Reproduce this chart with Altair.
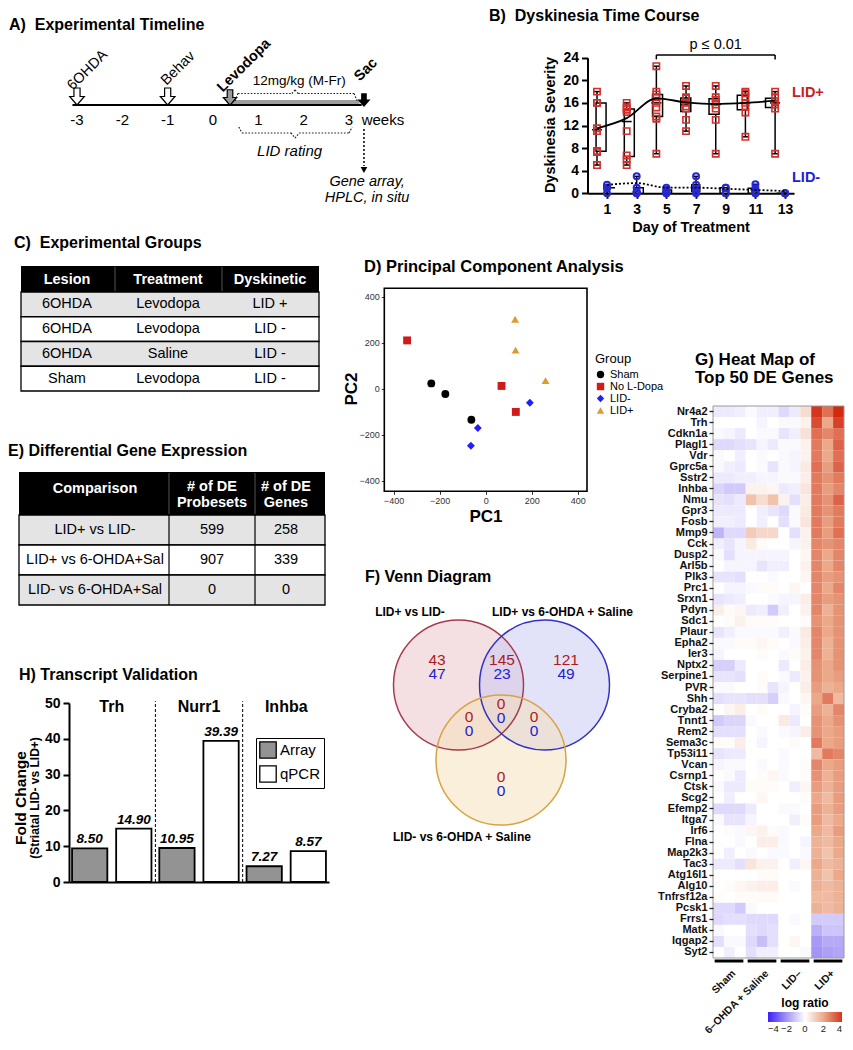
import altair as alt
import pandas as pd

# ================================================================ DATA
# A) timeline
A_weeks = [-3, -2, -1, 0, 1, 2, 3]
A_week_text = ["-3", "-2", "-1", "0", "1", "2", "3"]
A_events = ["6OHDA", "Behav", "Levodopa", "Sac"]
A_event_week = [-3.0, -1.0, 0.375, 3.33]
A_timeline = [-3.1, 3.28]
A_treatment = [0.42, 3.18]
A_rating = [0.57, 3.07]
A_dose = "12mg/kg (M-Fr)"
A_outputs = ["Gene array,", "HPLC, in situ"]

# B) dyskinesia time course
B_days = [1, 3, 5, 7, 9, 11, 13]
B_lid_plus = [
    [18, 16, 16, 11.5, 11, 7.5, 7.3, 5],
    [16, 15.2, 14.8, 14.4, 11, 6.7, 6, 5],
    [22.5, 18, 17.5, 17, 16, 15.2, 13.6, 13.2, 7],
    [19, 17, 16.8, 16, 15.4, 15, 13, 11],
    [19, 17, 16.5, 15.7, 15, 13, 7],
    [18, 17.7, 17, 16, 15.3, 14.3, 10],
    [18, 17, 16.3, 15.7, 15, 7],
]
B_lid_plus_mean = [11.5, 13.3, 16.8, 16.1, 15.8, 16.0, 16.4]
B_lid_minus = [
    [1.5, 1, 1, 1, 0],
    [3, 1, 0.3, 0, 0],
    [1, 0.6, 0.2, 0, 0],
    [3, 1.5, 0.8, 0.3, 0],
    [1, 1, 0, 0],
    [1.6, 0.9, 0.3, 0, 0],
    [0, 0, 0],
]
B_lid_minus_mean = [1.5, 1.8, 1.0, 1.0, 0.8, 0.6, 0.4]
B_sig_days = [5, 13]
B_sig_level = 24.5

# C) experimental groups
C_header = ["Lesion", "Treatment", "Dyskinetic"]
C_lesion = ["6OHDA", "6OHDA", "6OHDA", "Sham"]
C_treatment = ["Levodopa", "Levodopa", "Saline", "Levodopa"]
C_dyskinetic = ["LID +", "LID -", "LID -", "LID -"]

# D) PCA
D_groups = ["Sham", "No L-Dopa", "LID-", "LID+"]
D_group = ["Sham"] * 3 + ["No L-Dopa"] * 3 + ["LID-"] * 3 + ["LID+"] * 3
D_pc1 = [-236, -175, -62, -341, 69, 131, -34, -64, 192, 128, 130, 260]
D_pc2 = [23, -23, -135, 210, 12, -101, -171, -248, -61, 302, 168, 35]
D_ticks = [-400, -200, 0, 200, 400]

# E) differential expression
E_header = ["Comparison", "# of DE", "Probesets", "# of DE", "Genes"]
E_comparison = ["LID+ vs LID-", "LID+ vs 6-OHDA+Sal", "LID- vs 6-OHDA+Sal"]
E_probesets = [599, 907, 0]
E_genes = [258, 339, 0]

# F) Venn
F_sets = ["LID+ vs LID-", "LID+ vs 6-OHDA + Saline", "LID- vs 6-OHDA + Saline"]
F_up = [43, 145, 121, 0, 0, 0, 0]     # A only, A&B, B only, A&B&C, A&C, B&C, C only
F_down = [47, 23, 49, 0, 0, 0, 0]

# G) heat map
G_genes = ["Nr4a2", "Trh", "Cdkn1a", "Plagl1", "Vdr", "Gprc5a", "Sstr2", "Inhba", "Nmu",
           "Gpr3", "Fosb", "Mmp9", "Cck", "Dusp2", "Arl5b", "Plk3", "Prc1", "Srxn1", "Pdyn",
           "Sdc1", "Plaur", "Epha2", "Ier3", "Nptx2", "Serpine1", "PVR", "Shh", "Cryba2",
           "Tnnt1", "Rem2", "Sema3c", "Tp53i11", "Vcan", "Csrnp1", "Ctsk", "Scg2", "Efemp2",
           "Itga7", "Irf6", "Flna", "Map2k3", "Tac3", "Atg16l1", "Alg10", "Tnfrsf12a",
           "Pcsk1", "Frrs1", "Matk", "Iqgap2", "Syt2"]
G_groups = ["Sham", "6\u2013OHDA + Saline", "LID\u2013", "LID+"]
G_samples = ["Sham 1", "Sham 2", "Sham 3", "Sal 1", "Sal 2", "Sal 3",
             "LID- 1", "LID- 2", "LID- 3", "LID+ 1", "LID+ 2", "LID+ 3"]
G_values = [
    [-0.4, -0.4, -0.3, -0.1, -0.3, -0.3, -0.7, -0.4, 0.8, 4.0, 3.0, 4.2],
    [0.0, 0.0, 0.0, 0.0, -0.2, 0.0, -0.1, -0.1, 0.3, 3.6, 2.0, 3.8],
    [-0.1, -0.2, -0.4, 0.0, -0.1, -0.1, -0.5, -0.3, 0.7, 3.0, 2.6, 3.0],
    [-0.7, -0.7, -0.6, -0.5, -0.2, -0.4, -0.1, -0.1, 0.3, 2.8, 2.0, 3.2],
    [-0.1, 0.0, -0.3, 0.0, -0.1, 0.0, -0.1, -0.2, 0.3, 2.8, 2.0, 3.0],
    [-0.1, -0.3, -0.4, 0.0, -0.1, -0.5, -0.1, -0.2, 0.5, 3.0, 2.2, 3.2],
    [-0.4, -0.4, -0.3, -0.3, -0.2, -0.2, -0.1, -0.1, 0.4, 2.8, 2.4, 2.8],
    [-0.8, -1.0, -1.0, 0.3, 0.3, 0.2, -0.4, -0.3, 0.6, 2.8, 2.2, 2.6],
    [-0.5, -0.6, -0.4, 1.4, 0.8, 1.4, 0.3, -0.6, 0.4, 2.8, 2.4, 3.2],
    [-0.4, -0.4, -0.4, 0.0, -0.3, -0.5, -0.7, -0.1, 0.5, 2.8, 2.4, 2.8],
    [-0.3, -0.3, -0.4, 0.0, -0.3, 0.0, -0.6, -0.1, 0.6, 2.8, 2.2, 2.8],
    [-1.4, -0.7, -0.7, 1.2, 0.9, 0.9, 0.0, -0.6, 0.3, 2.8, 2.2, 3.0],
    [-0.3, -0.5, -0.2, 0.5, 0.1, 0.0, 0.0, -0.2, 0.3, 2.6, 2.4, 2.6],
    [-0.1, -0.6, -0.2, -0.2, -0.2, -0.2, -0.2, 0.0, 0.2, 2.6, 2.0, 2.6],
    [0.0, -0.2, -0.2, -0.2, -0.5, -0.3, -0.3, 0.0, 0.3, 2.6, 2.0, 2.6],
    [-0.5, -0.5, -0.6, 0.0, 0.0, -0.1, 0.0, 0.0, 0.2, 2.6, 2.2, 2.4],
    [0.0, -0.2, -0.2, -0.1, 0.1, 0.1, 0.0, 0.2, 0.0, 2.6, 2.0, 2.6],
    [-0.5, -0.4, -0.3, 0.0, 0.0, -0.1, -0.2, -0.2, 0.4, 2.6, 2.2, 2.4],
    [0.4, 0.1, 0.2, -0.4, -0.3, -1.0, -0.3, 0.0, 0.3, 2.6, 1.8, 2.4],
    [0.0, 0.1, 0.3, 0.1, 0.1, 0.1, 0.0, 0.0, 0.1, 2.4, 2.0, 2.4],
    [-0.5, -0.3, -0.1, -0.1, -0.1, -0.1, -0.3, -0.1, 0.5, 2.6, 2.0, 2.4],
    [-0.1, -0.1, 0.1, 0.1, 0.2, 0.1, 0.0, -0.1, 0.4, 2.6, 1.8, 2.4],
    [-0.2, 0.0, 0.0, 0.0, 0.1, 0.0, -0.1, 0.1, 0.3, 2.6, 1.8, 2.4],
    [-0.9, -0.9, -0.4, 0.0, 0.0, 0.0, -0.4, 0.0, 0.4, 2.4, 2.0, 2.4],
    [-0.5, -0.5, -0.6, 0.0, 0.1, 0.0, -0.1, -0.4, 0.3, 2.4, 2.0, 2.2],
    [-0.1, -0.1, 0.0, 0.0, 0.1, -0.5, -0.2, 0.0, 0.4, 2.2, 1.8, 2.0],
    [-0.6, -0.5, -0.5, -0.6, -0.6, -0.9, -0.1, 0.0, 0.2, 2.0, 2.8, 1.6],
    [0.0, 0.2, 0.4, 0.0, 0.1, 0.0, 0.0, -0.2, 0.1, 2.2, 1.8, 2.6],
    [-1.0, -0.8, -0.8, -0.1, 0.0, 0.0, 0.5, -0.4, 0.0, 2.4, 2.0, 2.4],
    [-0.6, -0.6, -0.6, 0.0, -0.1, 0.0, -0.1, -0.2, 0.4, 2.4, 2.0, 2.2],
    [0.1, 0.1, 0.4, 0.0, -0.2, 0.0, 0.0, 0.1, 0.0, 2.8, 2.0, 2.2],
    [-0.5, -0.4, -0.4, 0.0, 0.0, 0.0, -0.1, 0.0, 0.0, 1.6, 2.8, 2.6],
    [-0.2, -0.1, -0.1, 0.0, -0.1, 0.0, -0.1, 0.0, 0.1, 2.6, 2.0, 2.2],
    [0.0, -0.1, -0.4, 0.0, 0.1, 0.2, -0.1, 0.0, 0.1, 2.4, 1.8, 2.2],
    [-0.1, -0.4, -0.4, 0.1, 0.1, 0.1, 0.0, -0.3, 0.2, 2.2, 1.8, 2.2],
    [0.0, -0.3, 0.0, 0.0, 0.2, 0.0, 0.0, 0.0, 0.1, 2.0, 1.6, 2.2],
    [-0.7, -0.7, -0.7, -0.4, 0.0, 0.0, -0.1, -0.1, 0.0, 2.2, 1.8, 2.2],
    [-0.1, -0.5, -0.5, -0.2, 0.0, 0.0, 0.0, -0.3, 0.1, 2.2, 1.6, 2.0],
    [0.0, 0.1, -0.1, 0.2, 0.3, 0.1, -0.1, 0.0, 0.0, 2.0, 1.6, 2.2],
    [0.0, 0.0, -0.1, 0.0, 0.4, 0.4, -0.1, 0.0, -0.2, 1.8, 1.6, 2.0],
    [0.0, -0.3, 0.0, -0.1, 0.0, -0.1, -0.1, 0.0, -0.1, 1.8, 1.4, 2.0],
    [-0.4, -0.4, -0.6, 0.6, 0.3, 0.3, 0.0, -0.3, 0.2, 2.0, 1.6, 1.8],
    [0.0, 0.0, 0.0, 0.0, 0.1, 0.1, 0.0, 0.0, 0.0, 1.8, 1.4, 2.0],
    [0.0, 0.1, 0.2, 0.3, 0.4, 0.4, 0.0, -0.1, 0.0, 1.8, 1.6, 1.8],
    [0.1, 0.0, 0.1, 0.1, 0.1, 0.1, 0.0, 0.0, 0.0, 1.6, 1.6, 1.8],
    [-0.7, -0.7, -1.0, -0.1, 0.0, 0.0, 0.0, 0.0, 0.0, 1.8, 1.6, 1.8],
    [-0.7, -0.6, -0.6, -0.7, -0.7, -0.7, 0.0, -0.1, 0.0, -1.0, -1.0, -1.0],
    [-0.1, 0.0, 0.0, -0.6, -0.7, -0.6, 0.0, 0.0, 0.0, -1.5, -1.1, -1.1],
    [-0.6, -0.1, -0.1, -0.7, -1.2, -0.6, 0.0, 0.2, 0.0, -1.9, -1.6, -1.6],
    [0.0, -0.3, 0.0, -0.6, -0.3, -0.3, 0.0, 0.0, -0.1, -2.0, -1.8, -1.7],
]
G_legend_ticks = [-4, -2, 0, 2, 4]

# H) transcript validation
H_genes = ["Trh", "Nurr1", "Inhba"]
H_types = ["Array", "qPCR"]
H_array = [9.4, 9.5, 4.4]
H_qpcr = [14.9, 39.4, 8.6]
H_array_text = ["8.50", "10.95", "7.27"]
H_qpcr_text = ["14.90", "39.39", "8.57"]
H_ticks = [0, 10, 20, 30, 40, 50]

# ================================================================ LAYOUT HELPERS
OX, OY = 6, 3          # reference pixel -> chart pixel
GX, GY = 7, 10         # heat-map panel nudged left/up to fit the page
W, H = 837, 1028
FONT = "Liberation Sans"
ONE = [{"k": 0}]


def X(v):
    return round(v - OX, 1)


def Y(v):
    return round(v - OY, 1)


def XG(v):
    return X(v - GX)


def YG(v):
    return Y(v - GY)


def one():
    return alt.Chart(alt.Data(values=ONE))


def txt(s, x, y, size=14, weight="normal", color="black", align="left",
        baseline="alphabetic", angle=None, style="normal"):
    kw = dict(text=s, fontSize=size, fontWeight=weight, color=color, align=align,
              baseline=baseline, font=FONT, fontStyle=style)
    if angle is not None:
        kw["angle"] = angle
    return one().mark_text(**kw).encode(x=alt.value(x), y=alt.value(y))


def rect(x0, x1, y0, y1, fill="none", stroke=None, sw=1.0):
    kw = dict(fill=fill)
    if stroke:
        kw.update(stroke=stroke, strokeWidth=sw)
    return one().mark_rect(**kw).encode(x=alt.value(x0), x2=alt.value(x1),
                                        y=alt.value(y0), y2=alt.value(y1))


def line(x0, y0, x1, y1, color="black", sw=1.0, dash=None):
    kw = dict(color=color, strokeWidth=sw)
    if dash:
        kw["strokeDash"] = dash
    return one().mark_rule(**kw).encode(x=alt.value(x0), x2=alt.value(x1),
                                        y=alt.value(y0), y2=alt.value(y1))


layers = []
add = layers.extend

# ================================================================ A
xA = alt.Scale(domain=[-3, 3], range=[X(75), X(347)])


def wk(v):
    return alt.XDatum(v, scale=xA, axis=None, type="quantitative")


def segA(w0, y0, w1, y1, sw=1.2, color="#222", dash=(1.6, 1.6), cap="butt"):
    kw = dict(color=color, strokeWidth=sw, strokeCap=cap)
    if dash:
        kw["strokeDash"] = list(dash)
    return one().mark_rule(**kw).encode(x=wk(w0), x2=alt.X2Datum(w1),
                                        y=alt.value(Y(y0)), y2=alt.value(Y(y1)))


ARROW = "M-0.36,-1L0.36,-1L0.36,0L0.86,0L0,1L-0.86,0L-0.36,0Z"


def arrow(w, yc, size, fill):
    return one().mark_point(shape=ARROW, size=size, filled=True, fill=fill,
                            stroke="black", strokeWidth=1.2, opacity=1).encode(
        x=wk(w), y=alt.value(Y(yc)))


def evlabel(i, xoff, yy, weight):
    return one().mark_text(text=A_events[i], fontSize=14.5, fontWeight=weight, font=FONT,
                           angle=315, align="left", baseline="middle",
                           xOffset=xoff).encode(x=wk(A_event_week[i]), y=alt.value(Y(yy)))


dfA = pd.DataFrame({"w": A_weeks, "t": A_week_text})
add([
    txt("A)\u00a0\u00a0Experimental Timeline", X(7), Y(25), 16, "bold"),
    segA(A_treatment[0], 97.5, A_treatment[1], 97.5, sw=5, color="#9d9d9d", dash=None, cap="round"),
    segA(A_timeline[0], 100, A_timeline[1], 100, sw=2.2, color="black", dash=None),
    alt.Chart(dfA).mark_text(fontSize=15, font=FONT, align="center", baseline="middle").encode(
        x=alt.X("w:Q", scale=xA, axis=None), y=alt.value(Y(115)), text="t:N"),
    one().mark_text(text="weeks", fontSize=15, font=FONT, align="left", baseline="middle").encode(
        x=wk(A_timeline[1]), y=alt.value(Y(115))),
    arrow(A_event_week[0], 91.5, 289, "white"),
    arrow(A_event_week[1], 91.5, 289, "white"),
    arrow(A_event_week[2], 92.5, 240, "#9a9a9a"),
    arrow(A_event_week[3], 95.0, 150, "black"),
    evlabel(0, -7, 83, "normal"),
    evlabel(1, -4, 78, "normal"),
    evlabel(2, -10, 85, "bold"),
    evlabel(3, -7, 74, "bold"),
    # dotted brace above treatment bar
    segA(A_treatment[0] + 0.065, 96, A_treatment[0] + 0.13, 88.5),
    segA(A_treatment[0] + 0.13, 88.5, 1.74, 88.5),
    segA(1.74, 88.5, 1.81, 85),
    segA(1.81, 85, 1.88, 88.5),
    segA(1.88, 88.5, A_treatment[1] - 0.07, 88.5),
    segA(A_treatment[1] - 0.07, 88.5, A_treatment[1], 96),
    one().mark_text(text=A_dose, fontSize=13.5, font=FONT, align="center", baseline="middle").encode(
        x=wk(1.9), y=alt.value(Y(76))),
    # dotted brace below (LID rating)
    segA(A_rating[0], 122, A_rating[0] + 0.07, 128),
    segA(A_rating[0] + 0.07, 128, 1.72, 128),
    segA(1.72, 128, 1.81, 133),
    segA(1.81, 133, 1.9, 128),
    segA(1.9, 128, A_rating[1] - 0.07, 128),
    segA(A_rating[1] - 0.07, 128, A_rating[1], 122),
    one().mark_text(text="LID rating", fontSize=15, font=FONT, fontStyle="italic",
                    align="center", baseline="middle").encode(x=wk(1.69), y=alt.value(Y(146))),
    # dotted arrow to outputs
    segA(A_event_week[3], 124, A_event_week[3], 161, sw=1.5, color="black", dash=(2, 2)),
    one().mark_point(shape="triangle-down", size=45, filled=True, color="black", opacity=1).encode(
        x=wk(A_event_week[3]), y=alt.value(Y(165))),
    one().mark_text(text=A_outputs[0], fontSize=14.5, font=FONT, fontStyle="italic",
                    align="center", baseline="middle").encode(x=wk(3.4), y=alt.value(Y(177))),
    one().mark_text(text=A_outputs[1], fontSize=14.5, font=FONT, fontStyle="italic",
                    align="center", baseline="middle").encode(x=wk(3.4), y=alt.value(Y(193))),
])

# ================================================================ B
xB = alt.Scale(domain=[-0.3, 13.6], range=[X(585.7), X(792)])
yB = alt.Scale(domain=[0, 24], range=[Y(188.3), Y(52.7)])
dfBp = pd.DataFrame([(d, v) for d, vals in zip(B_days, B_lid_plus) for v in vals], columns=["day", "v"])
dfBm = pd.DataFrame([(d, v) for d, vals in zip(B_days, B_lid_minus) for v in vals], columns=["day", "v"])
xBe = alt.X("day:Q", scale=xB, axis=None)


def boxes(df, off, bw):
    base = alt.Chart(df).transform_aggregate(
        lo="min(v)", hi="max(v)", q1="q1(v)", q3="q3(v)", med="median(v)", groupby=["day"])
    return [
        base.mark_rule(color="black", strokeWidth=1.5, xOffset=off).encode(
            x=xBe, y=alt.Y("lo:Q", scale=yB, axis=None), y2="hi:Q"),
        base.mark_tick(orient="horizontal", size=bw - 3, thickness=1.5, color="black",
                       xOffset=off, opacity=1).encode(x=xBe, y=alt.Y("hi:Q", scale=yB, axis=None)),
        base.mark_tick(orient="horizontal", size=bw - 3, thickness=1.5, color="black",
                       xOffset=off, opacity=1).encode(x=xBe, y=alt.Y("lo:Q", scale=yB, axis=None)),
        base.mark_bar(width=bw, fill="white", stroke="black", strokeWidth=1.5, xOffset=off).encode(
            x=xBe, y=alt.Y("q1:Q", scale=yB, axis=None), y2="q3:Q"),
        base.mark_tick(orient="horizontal", size=bw, thickness=1.5, color="black",
                       xOffset=off, opacity=1).encode(x=xBe, y=alt.Y("med:Q", scale=yB, axis=None)),
    ]


axis_style = dict(grid=False, title=None, domainColor="black", domainWidth=2, tickColor="black",
                  tickWidth=2, labelColor="black", labelFont=FONT, labelFontWeight="bold",
                  labelFontSize=14)
dfBpm = pd.DataFrame({"day": B_days, "m": B_lid_plus_mean})
dfBmm = pd.DataFrame({"day": B_days, "m": B_lid_minus_mean})
dfBsig = pd.DataFrame({"day": B_sig_days})
add([
    txt("B)\u00a0\u00a0Dyskinesia Time Course", X(487), Y(16), 16, "bold"),
    alt.Chart(dfBp).mark_point(opacity=0).encode(
        x=alt.X("day:Q", scale=xB, axis=alt.Axis(orient="bottom", offset=Y(188.3) - H, values=B_days,
                                                 tickSize=5, labelPadding=4, **axis_style)),
        y=alt.Y("v:Q", scale=yB, axis=alt.Axis(orient="left", offset=-X(585.5),
                                               values=[0, 4, 8, 12, 16, 20, 24], tickSize=6,
                                               labelPadding=3, **axis_style))),
])
add(boxes(dfBp, -10, 10))
add(boxes(dfBm, 0, 8))
add([
    alt.Chart(dfBp).mark_point(shape="square", size=40, color="#d2302c", strokeWidth=1.6,
                               xOffset=-10, opacity=1).encode(
        x=xBe, y=alt.Y("v:Q", scale=yB, axis=None)),
    alt.Chart(dfBpm).mark_line(interpolate="monotone", color="black", strokeWidth=1.8, xOffset=-10).encode(
        x=xBe, y=alt.Y("m:Q", scale=yB, axis=None)),
    alt.Chart(dfBm).mark_point(shape="circle", size=36, color="#2727d9", strokeWidth=2,
                               opacity=1).encode(x=xBe, y=alt.Y("v:Q", scale=yB, axis=None)),
    alt.Chart(dfBmm).mark_line(interpolate="monotone", color="black", strokeWidth=1.8,
                               strokeDash=[2, 2]).encode(x=xBe, y=alt.Y("m:Q", scale=yB, axis=None)),
    # significance bracket
    one().mark_rule(color="black", strokeWidth=1.5, xOffset=-10, x2Offset=-10).encode(
        x=alt.XDatum(B_sig_days[0], scale=xB, axis=None, type="quantitative"),
        x2=alt.X2Datum(B_sig_days[1]),
        y=alt.YDatum(B_sig_level, scale=yB, axis=None, type="quantitative")),
    alt.Chart(dfBsig).mark_rule(color="black", strokeWidth=1.5, xOffset=-10).encode(
        x=xBe, y=alt.YDatum(B_sig_level, scale=yB, axis=None, type="quantitative"),
        y2=alt.Y2Datum(B_sig_level - 0.8)),
    one().mark_text(text="p \u2264 0.01", fontSize=14.5, font=FONT, align="center",
                    baseline="alphabetic", xOffset=-10).encode(
        x=alt.XDatum(9, scale=xB, axis=None, type="quantitative"), y=alt.value(Y(44))),
    txt("Dyskinesia Severity", X(549), Y(120), 14.5, "bold", angle=270, align="center", baseline="middle"),
    txt("Day of Treatment", X(689), Y(223), 14.5, "bold", align="center", baseline="middle"),
    txt("LID+", X(790), Y(88), 14.5, "bold", color="#c8201e", baseline="middle"),
    txt("LID-", X(790), Y(173), 14.5, "bold", color="#2020d8", baseline="middle"),
])


# ================================================================ table helper
def table(df, cols, centers, x0, x1, y_body0, y_body1, shades, size=14, vseps=None):
    rows = list(df["row"])
    ys = alt.Scale(domain=rows, range=[Y(y_body0), Y(y_body1)], paddingInner=0, paddingOuter=0)
    out = [alt.Chart(df).mark_rect(stroke="black", strokeWidth=1.3).encode(
        x=alt.value(X(x0)), x2=alt.value(X(x1)), y=alt.Y("row:O", scale=ys, axis=None),
        fill=alt.Fill("row:O", scale=alt.Scale(domain=rows, range=shades), legend=None))]
    for c, cx in zip(cols, centers):
        out.append(alt.Chart(df).mark_text(fontSize=size, font=FONT, align="center",
                                           baseline="middle", color="black").encode(
            x=alt.value(X(cx)), y=alt.Y("row:O", scale=ys, axis=None), text=f"{c}:N"))
    if vseps:
        for vx in vseps:
            out.append(line(X(vx), Y(y_body0), X(vx), Y(y_body1), "black", 1.2))
    return out


# ================================================================ C
dfC = pd.DataFrame({"row": [1, 2, 3, 4], "Lesion": C_lesion, "Treatment": C_treatment,
                    "Dyskinetic": C_dyskinetic})
C_cx = [65, 166, 268]
add([txt("C)\u00a0\u00a0Experimental Groups", X(12), Y(243), 16, "bold"),
     rect(X(19), X(317), Y(261), Y(287), fill="black"),
     line(X(113), Y(262), X(113), Y(286), "#555", 1),
     line(X(220), Y(262), X(220), Y(286), "#555", 1)])
for h, cx in zip(C_header, C_cx):
    add([txt(h, X(cx), Y(274.5), 14.5, "bold", color="white", align="center", baseline="middle")])
add(table(dfC, ["Lesion", "Treatment", "Dyskinetic"], C_cx, 19, 317, 287, 386,
          ["#e4e4e4", "#ffffff", "#e4e4e4", "#ffffff"], size=14.5))

# ================================================================ E
dfE = pd.DataFrame({"row": [1, 2, 3], "cmp": E_comparison, "pr": E_probesets, "gn": E_genes})
E_cx = [93, 210, 284]
add([txt("E) Differential Gene Expression", X(6), Y(451), 16, "bold"),
     rect(X(17), X(323), Y(467), Y(510), fill="black"),
     line(X(167), Y(468), X(167), Y(509), "#555", 1),
     line(X(253), Y(468), X(253), Y(509), "#555", 1),
     txt(E_header[0], X(E_cx[0]), Y(484), 14.5, "bold", color="white", align="center", baseline="middle"),
     txt(E_header[1], X(E_cx[1]), Y(482), 14.5, "bold", color="white", align="center", baseline="middle"),
     txt(E_header[2], X(E_cx[1]), Y(498), 14.5, "bold", color="white", align="center", baseline="middle"),
     txt(E_header[3], X(E_cx[2]), Y(482), 14.5, "bold", color="white", align="center", baseline="middle"),
     txt(E_header[4], X(E_cx[2]), Y(498), 14.5, "bold", color="white", align="center", baseline="middle")])
add(table(dfE, ["cmp", "pr", "gn"], E_cx, 17, 323, 510, 600,
          ["#e4e4e4", "#ffffff", "#e4e4e4"], size=14.5, vseps=[167, 253]))

# ================================================================ D
xD = alt.Scale(domain=[-440, 440], range=[X(382.3), X(585)])
yD = alt.Scale(domain=[-446, 436.5], range=[Y(486.3), Y(283.3)])
dfD = pd.DataFrame({"group": D_group, "pc1": D_pc1, "pc2": D_pc2})
d_axis = dict(grid=False, title=None, domain=False, tickColor="#333", tickSize=3, tickWidth=1,
              labelColor="#333", labelFont=FONT, labelFontSize=9, labelPadding=2, values=D_ticks)
d_legend = dict(orient="none", legendX=X(593), legendY=Y(348), title="Group",
                titleFont=FONT, titleFontSize=13, titleFontWeight="normal",
                titleColor="black", labelFont=FONT, labelFontSize=11,
                labelColor="black", symbolSize=55, rowPadding=0,
                titlePadding=3, symbolStrokeWidth=0)
add([
    txt("D) Principal Component Analysis", X(362), Y(267), 16.5, "bold"),
    one().mark_rect(fill=None, stroke="black", strokeWidth=1.6).encode(
        x=alt.XDatum(-440, scale=xD, axis=None, type="quantitative"), x2=alt.X2Datum(440),
        y=alt.YDatum(-446, scale=yD, axis=None, type="quantitative"), y2=alt.Y2Datum(436.5)),
    alt.Chart(dfD).mark_point(filled=True, size=62, opacity=1).encode(
        x=alt.X("pc1:Q", scale=xD, axis=alt.Axis(orient="bottom", offset=Y(486.3) - H, **d_axis)),
        y=alt.Y("pc2:Q", scale=yD, axis=alt.Axis(orient="left", offset=-X(382.3), **d_axis)),
        color=alt.Color("group:N", scale=alt.Scale(domain=D_groups,
                                                   range=["#000000", "#d11a1a", "#2020ff", "#df9b2b"]),
                        legend=alt.Legend(**d_legend)),
        shape=alt.Shape("group:N", scale=alt.Scale(domain=D_groups,
                                                   range=["circle", "square", "diamond", "triangle-up"]),
                        legend=alt.Legend(**d_legend))),
    txt("PC2", X(350), Y(384), 17, "bold", angle=270, align="center", baseline="middle"),
    txt("PC1", X(484), Y(512), 17, "bold", align="center", baseline="middle"),
])

# ================================================================ F
F_centers = [(456.5, 680), (542.5, 680), (499, 755)]
F_fill = ["#e9c2c7", "#c6c6f3", "#f6e0b8"]
F_stroke = ["#a63c4c", "#3232c4", "#d9a343"]
F_pos = [(435, 655), (500, 655), (564, 655), (499, 699), (467, 712), (532, 712), (499, 772)]
add([txt("F) Venn Diagram", X(363), Y(577), 16, "bold"),
     txt(F_sets[0], X(408), Y(607), 12, "bold", align="center", baseline="middle"),
     txt(F_sets[1], X(490), Y(607), 12, "bold", align="left", baseline="middle"),
     txt(F_sets[2], X(460), Y(832), 12, "bold", align="center", baseline="middle")])
for (cx, cy), f in zip(F_centers, F_fill):
    add([one().mark_point(shape="circle", size=130 * 130, filled=True, fill=f, fillOpacity=0.5,
                          strokeWidth=0, opacity=1).encode(x=alt.value(X(cx)), y=alt.value(Y(cy)))])
for (cx, cy), s in zip(F_centers, F_stroke):
    add([one().mark_point(shape="circle", size=130 * 130, filled=False, stroke=s, strokeWidth=1.5,
                          opacity=1).encode(x=alt.value(X(cx)), y=alt.value(Y(cy)))])
for (px, py), u, d in zip(F_pos, F_up, F_down):
    add([txt(str(u), X(px), Y(py), 15.5, color="#b01a1a", align="center", baseline="middle"),
         txt(str(d), X(px), Y(py + 14), 15.5, color="#2323cc", align="center", baseline="middle")])

# ================================================================ G
dfG = pd.DataFrame([(g, s, v) for g, row in zip(G_genes, G_values) for s, v in zip(G_samples, row)],
                   columns=["gene", "sample", "v"])
gx0, gx1 = XG(718), XG(849)
xG = alt.Scale(domain=G_samples, range=[gx0, gx1], paddingInner=0, paddingOuter=0)
yG = alt.Scale(domain=G_genes, range=[YG(411), YG(963)], paddingInner=0, paddingOuter=0)
xGg = alt.Scale(type="band", domain=G_groups, range=[gx0, gx1], paddingInner=0.13, paddingOuter=0.05)
dfGg = pd.DataFrame({"g": G_groups})
add([
    txt("G) Heat Map of", XG(700), YG(370), 17, "bold"),
    txt("Top 50 DE Genes", XG(700), YG(388), 17, "bold"),
    alt.Chart(dfG).mark_rect().encode(
        x=alt.X("sample:N", scale=xG, axis=None),
        y=alt.Y("gene:N", scale=yG, axis=alt.Axis(orient="left", offset=-gx0, grid=False, title=None,
                                                  domain=False, tickColor="#222", tickSize=4,
                                                  tickWidth=1.3, labelFont=FONT, labelFontSize=11,
                                                  labelFontWeight="bold", labelColor="#111",
                                                  labelPadding=2)),
        fill=alt.Fill("v:Q", scale=alt.Scale(domain=[-4, -2, 0, 2, 4],
                                             range=["#3b1fff", "#a494f4", "#ffffff", "#eba98a", "#d4351c"],
                                             interpolate="rgb"),
                      legend=alt.Legend(orient="none", legendX=XG(773), legendY=990,
                                        direction="horizontal", title="log ratio", titleFont=FONT,
                                        titleFontSize=12, titleFontWeight="bold", titleColor="black",
                                        titleAnchor="middle", titlePadding=2, gradientLength=74,
                                        gradientThickness=10, gradientStrokeWidth=0,
                                        values=G_legend_ticks, labelFont=FONT, labelFontSize=9.5,
                                        labelColor="#222", labelOverlap=False, labelOffset=2))),
    rect(gx0, gx1, YG(411), YG(963), fill="none", stroke="#9a9a9a", sw=1),
    alt.Chart(dfGg).mark_rect(fill="black").encode(
        x=alt.X("g:N", scale=xGg, axis=None), y=alt.value(YG(964.5)), y2=alt.value(YG(967.5))),
    alt.Chart(dfGg).mark_text(angle=315, align="right", baseline="middle", fontSize=10.5,
                              fontWeight="bold", font=FONT, color="#111", xOffset=5).encode(
        x=alt.X("g:N", scale=xGg, axis=None), y=alt.value(YG(977)), text="g:N"),
])

# ================================================================ H
dfH = pd.DataFrame({
    "gene": H_genes * 2,
    "type": ["Array"] * 3 + ["qPCR"] * 3,
    "fc": H_array + H_qpcr,
    "lab": H_array_text + H_qpcr_text,
})
xH = alt.Scale(type="band", domain=H_genes, range=[X(67), X(327)], paddingInner=0.09, paddingOuter=0.035)
yH = alt.Scale(domain=[0, 50], range=[Y(877), Y(698)])
oH = alt.Scale(type="band", domain=H_types, paddingInner=0.2, paddingOuter=0)
dfHs = pd.DataFrame({"gene": H_genes[1:]})
dfHg = pd.DataFrame({"gene": H_genes})
add([
    txt("H) Transcript Validation", X(17), Y(675), 16, "bold"),
    alt.Chart(dfHs).mark_rule(color="black", strokeWidth=1, strokeDash=[3, 2], xOffset=-3.9).encode(
        x=alt.X("gene:N", scale=xH, axis=None, bandPosition=0),
        y=alt.YDatum(0, scale=yH, axis=None, type="quantitative"), y2=alt.Y2Datum(50.5)),
    alt.Chart(dfH).mark_bar(stroke="black", strokeWidth=1.8).encode(
        x=alt.X("gene:N", scale=xH, axis=alt.Axis(orient="bottom", offset=Y(877) - H, labels=False,
                                                  ticks=False, title=None, grid=False,
                                                  domainColor="black", domainWidth=2)),
        xOffset=alt.XOffset("type:N", scale=oH),
        y=alt.Y("fc:Q", scale=yH, axis=alt.Axis(orient="left", offset=-X(67), values=H_ticks,
                                                tickSize=6, labelPadding=3, **axis_style)),
        fill=alt.Fill("type:N", scale=alt.Scale(domain=H_types, range=["#939393", "#ffffff"]),
                      legend=alt.Legend(orient="none", legendX=X(254), legendY=Y(733), title=None,
                                        strokeColor="black", padding=3, symbolType="square",
                                        symbolSize=270, symbolStrokeColor="black",
                                        symbolStrokeWidth=1.3, labelFont=FONT, labelFontSize=15,
                                        labelColor="black", rowPadding=2, labelOffset=3))),
    alt.Chart(dfH).mark_text(fontSize=13.5, fontWeight="bold", fontStyle="italic", font=FONT,
                             align="center", baseline="alphabetic", dy=-5).encode(
        x=alt.X("gene:N", scale=xH, axis=None), xOffset=alt.XOffset("type:N", scale=oH),
        y=alt.Y("fc:Q", scale=yH, axis=None), text="lab:N"),
    alt.Chart(dfHg).mark_text(fontSize=16, fontWeight="bold", font=FONT, align="center",
                              baseline="middle").encode(
        x=alt.X("gene:N", scale=xH, axis=None), y=alt.value(Y(702)), text="gene:N"),
    txt("Fold Change", X(19), Y(793), 15.5, "bold", angle=270, align="center", baseline="middle"),
    txt("(Striatal LID- vs LID+)", X(33), Y(793), 12, "bold", angle=270, align="center", baseline="middle"),
])

# ================================================================ compose
chart = alt.layer(*layers).properties(
    width=W, height=H, padding=0, background="white",
    autosize=alt.AutoSizeParams(type="none"),
).resolve_scale(
    x="independent", y="independent", color="independent", fill="independent",
    stroke="independent", shape="independent", size="independent", xOffset="independent",
).resolve_axis(x="independent", y="independent").resolve_legend(
    color="independent", fill="independent", shape="independent",
).configure(font=FONT, view=alt.ViewConfig(stroke=None))

chart.save("out.html", embed_options={"renderer": "svg", "actions": False})
